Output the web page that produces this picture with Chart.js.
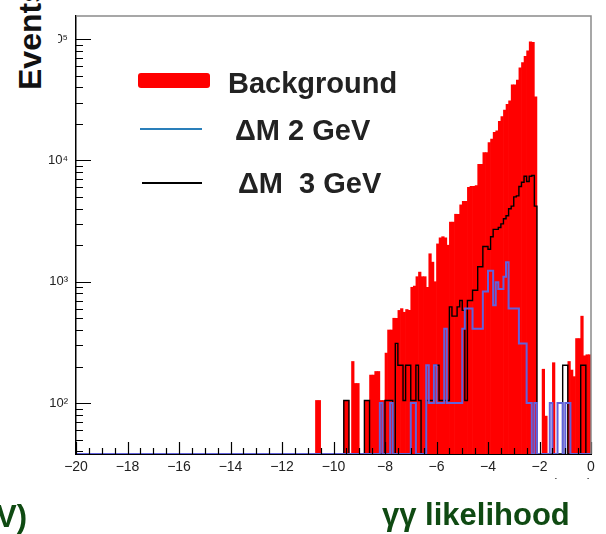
<!DOCTYPE html>
<html>
<head>
<meta charset="utf-8">
<script src="https://cdn.jsdelivr.net/npm/chart.js@4.4.1/dist/chart.umd.min.js"></script>
<style>
  html, body { margin: 0; padding: 0; background: #fff; }
  #wrap { position: relative; width: 606px; height: 534px; overflow: hidden;
          font-family: "Liberation Sans", Arial, sans-serif; }
  #c { position: absolute; left: 0; top: 0; }
  .abs { position: absolute; white-space: nowrap; line-height: 1; }
  .leg { font-size: 29px; font-weight: bold; color: #222; }
  .green { font-size: 31px; font-weight: bold; color: #0f4a12; }
  #ytitle { left: 0; top: 0; width: 58px; height: 95px; background: #fff; overflow: hidden; }
  #ytitle span { position: absolute; left: 0; top: 0; font-size: 32px; font-weight: bold; color: #111;
                 transform-origin: 0 0; transform: translate(14px, 90px) rotate(-90deg); }
  #xtitle { left: 440px; top: 476px; width: 152px; height: 3px; overflow: hidden; }
  #xtitle span { position: absolute; right: 0; top: 0; font-size: 15px; color: #333; word-spacing: 12px; }
</style>
</head>
<body>
<div id="wrap">
  <canvas id="c" width="606" height="534"></canvas>
  <div id="ytitle" class="abs"><span class="abs">Events</span></div>
  <div class="abs" style="left:138px; top:73px; width:72px; height:15px; border-radius:3px;" id="sw0"></div>
  <div class="abs leg" style="left:228px; top:69px;" id="lab0"></div>
  <div class="abs" style="left:140px; top:128px; width:62px; height:2px;" id="sw1"></div>
  <div class="abs leg" style="left:235px; top:116px;" id="lab1"></div>
  <div class="abs" style="left:142px; top:182px; width:60px; height:2px;" id="sw2"></div>
  <div class="abs leg" style="left:238px; top:169px;" id="lab2"></div>
  <div id="xtitle" class="abs"><span class="abs">Mass (GeV)</span></div>
  <div class="abs green" style="left:-4px; top:501px;">V)</div>
  <div class="abs green" style="left:382px; top:499px;">γγ likelihood</div>
</div>
<script>
// histogram binning: 200 bins of 0.1 from -20 to 0
const X_MIN = -20, X_MAX = 0, BIN_WIDTH = 0.1;
const Y_MIN = 38, Y_MAX = 155000;
// every bin left of this edge is empty in all three histograms
const FIRST_FILLED_BIN = -10.8;

const seriesNames = ["Background", "ΔM 2 GeV", "ΔM\u00a0 3 GeV"];

// one row per unit of x, starting at -10.8
const background = [
  0, 105, 105, 0, 0, 0, 0, 0, 0, 0,
  0, 0, 105, 105, 0, 220, 145, 145, 0, 0,
  105, 105, 170, 170, 182, 182, 105, 105, 258, 400,
  400, 500, 500, 580, 600, 560, 590, 580, 900, 920,
  1100, 1200, 1100, 1100, 900, 1700, 1450, 1000, 2050, 2300,
  2350, 2300, 2000, 3100, 3100, 3600, 3600, 4300, 4600, 4600,
  6000, 6100, 6100, 6200, 9300, 9300, 11600, 11600, 14000, 15000,
  17000, 17500, 21000, 23000, 26000, 29000, 31000, 42000, 42000, 46000,
  58000, 64000, 72000, 80000, 95000, 94000, 33500, 0, 0, 190,
  78, 0, 0, 215, 0, 0, 0, 0, 0, 220,
  187, 165, 340, 340, 520, 245, 250, 250
];

const deltaM2 = [
  0, 0, 0, 0, 0, 0, 0, 0, 0, 0,
  0, 0, 0, 0, 0, 0, 0, 0, 0, 0,
  0, 0, 0, 0, 0, 0, 100, 0, 0, 0,
  100, 0, 0, 0, 0, 0, 0, 0, 100, 100,
  0, 0, 0, 0, 205, 100, 100, 205, 100, 100,
  100, 410, 100, 100, 100, 100, 100, 100, 410, 600,
  600, 600, 410, 410, 410, 410, 830, 830, 1230, 1230,
  640, 990, 870, 870, 1100, 1450, 600, 600, 600, 600,
  310, 310, 310, 100, 100, 0, 100, 0, 0, 0,
  0, 0, 100, 0, 0, 100, 100, 0, 100, 100,
  0, 0, 0, 0, 0, 0, 0, 0
];

const deltaM3 = [
  0, 0, 0, 0, 0, 0, 0, 0, 0, 0,
  0, 0, 105, 105, 0, 0, 0, 0, 0, 0,
  105, 105, 0, 0, 0, 0, 0, 0, 105, 105,
  105, 0, 310, 205, 205, 105, 205, 205, 105, 105,
  205, 105, 0, 0, 105, 105, 105, 205, 205, 105,
  105, 105, 105, 620, 520, 520, 620, 700, 580, 105,
  700, 700, 850, 850, 1330, 1330, 1950, 1950, 1850, 2350,
  2700, 2700, 2800, 3000, 3300, 3500, 4000, 4200, 5000, 5100,
  6100, 6600, 7400, 6700, 7400, 7500, 4200, 0, 0, 0,
  0, 0, 0, 0, 0, 0, 0, 205, 205, 0,
  0, 0, 0, 0, 205, 205, 0, 0
];

const yTickValues = [1e2, 1e3, 1e4, 1e5];
const yTickLabels = ["10²", "10³", "10⁴", "10⁵"];

const RED = "#ff0000";
const BLUE_LINE = "#6262dc";
const BLUE_LEGEND = "#2a7fba";

// filled histogram: one bar per bin, centred on the bin
function histBars(values) {
  return values.map((v, k) => ({
    x: FIRST_FILLED_BIN + (k + 0.5) * BIN_WIDTH,
    y: v > 0 ? v : null
  }));
}

// outline histogram: left edge of every bin, plus a closing point at the right edge
function histPoints(values) {
  const nEmpty = Math.round((FIRST_FILLED_BIN - X_MIN) / BIN_WIDTH);
  const counts = new Array(nEmpty).fill(0).concat(values);
  const pts = counts.map((v, i) => ({ x: X_MIN + i * BIN_WIDTH, y: Math.max(v, Y_MIN) }));
  pts.push({ x: X_MAX, y: pts[pts.length - 1].y });
  return pts;
}

// ROOT style ticks pointing into the frame, and the grey frame
const innerTicks = {
  id: "innerTicks",
  afterDatasetsDraw(chart) {
    const { ctx, chartArea: a, scales: { x, y } } = chart;
    ctx.save();
    ctx.strokeStyle = "#000";
    ctx.lineWidth = 1.2;
    ctx.beginPath();
    for (let v = X_MIN; v <= X_MAX + 1e-9; v += 0.5) {
      const px = Math.round(x.getPixelForValue(v)) + 0.5;
      const len = Math.abs(v % 2) < 1e-9 ? 12 : 6;
      ctx.moveTo(px, a.bottom);
      ctx.lineTo(px, a.bottom - len);
    }
    for (let d = 1; d <= 5; d++) {
      for (let m = 1; m <= 9; m++) {
        const v = m * Math.pow(10, d);
        if (v < y.min || v > y.max) continue;
        const py = Math.round(y.getPixelForValue(v)) + 0.5;
        ctx.moveTo(a.left, py);
        ctx.lineTo(a.left + (m === 1 ? 15 : 7), py);
      }
    }
    ctx.stroke();
    ctx.strokeStyle = "#8a8a8a";
    ctx.lineWidth = 1.5;
    ctx.beginPath();
    ctx.moveTo(a.left, a.top);
    ctx.lineTo(a.right, a.top);
    ctx.lineTo(a.right, a.bottom);
    ctx.stroke();
    ctx.restore();
  }
};

const tickFont = { family: "'Liberation Sans', Arial, sans-serif", size: 14 };

const chart = new Chart(document.getElementById("c"), {
  type: "line",
  data: {
    datasets: [
      {
        type: "bar",
        label: seriesNames[0],
        data: histBars(background),
        backgroundColor: RED,
        borderWidth: 0,
        barPercentage: 1,
        categoryPercentage: 1,
        order: 3
      },
      {
        label: seriesNames[1],
        data: histPoints(deltaM2),
        stepped: true,
        fill: false,
        borderColor: BLUE_LINE,
        borderWidth: 2,
        pointRadius: 0,
        order: 1
      },
      {
        label: seriesNames[2],
        data: histPoints(deltaM3),
        stepped: true,
        fill: false,
        borderColor: "#000",
        borderWidth: 1.4,
        pointRadius: 0,
        order: 2
      }
    ]
  },
  options: {
    responsive: false,
    animation: false,
    layout: { padding: { left: 0, right: 15, top: 16, bottom: 50 } },
    plugins: { legend: { display: false }, tooltip: { enabled: false } },
    scales: {
      x: {
        type: "linear",
        min: X_MIN,
        max: X_MAX,
        offset: false,
        grid: { display: false, drawTicks: false },
        border: { display: true, color: "#000", width: 1 },
        ticks: {
          stepSize: 2,
          padding: 5,
          color: "#222",
          font: tickFont,
          maxRotation: 0,
          autoSkip: false,
          callback: v => (v < 0 ? "\u2212" + Math.abs(v) : String(v))
        },
        afterFit: s => { s.height = 30; }
      },
      y: {
        type: "logarithmic",
        min: Y_MIN,
        max: Y_MAX,
        grid: { display: false, drawTicks: false },
        border: { display: true, color: "#000", width: 1.5 },
        ticks: {
          padding: 8,
          color: "#222",
          font: { family: tickFont.family, size: 13 },
          autoSkip: false,
          callback: v => {
            const i = yTickValues.findIndex(t => Math.abs(t - v) / t < 1e-6);
            return i >= 0 ? yTickLabels[i] : "";
          }
        },
        afterFit: s => { s.width = 76; }
      }
    }
  },
  plugins: [innerTicks]
});

// legend rows follow the datasets: Background, ΔM 2 GeV, ΔM 3 GeV
const legendOrder = [0, 1, 2];
legendOrder.forEach((di, row) => {
  const ds = chart.data.datasets[di];
  document.getElementById("lab" + row).textContent = ds.label;
  document.getElementById("sw" + row).style.background =
    di === 0 ? RED : di === 1 ? BLUE_LEGEND : "#000";
});
</script>
</body>
</html>
